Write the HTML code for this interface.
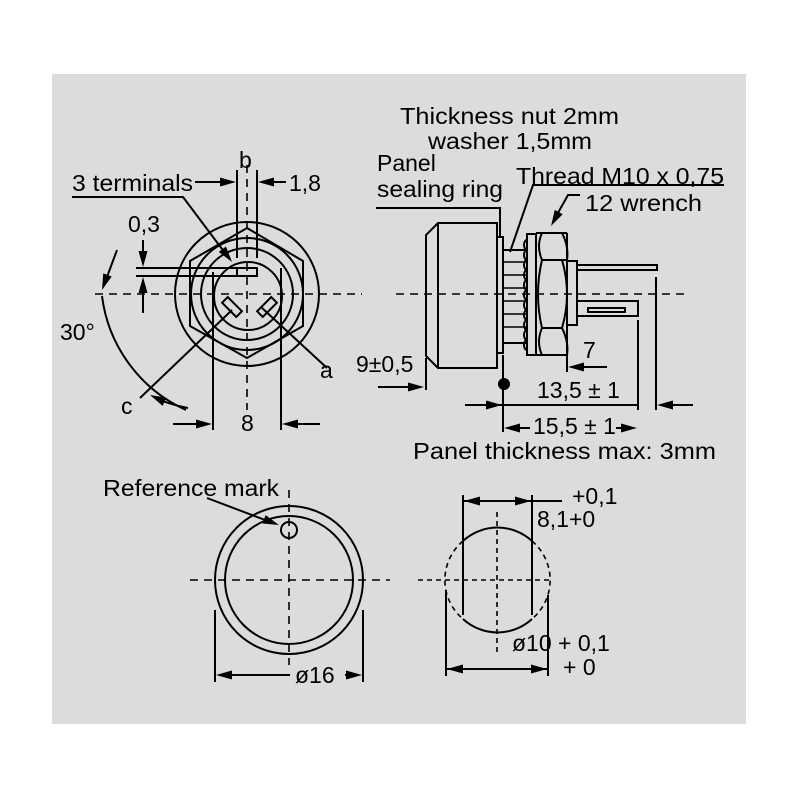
<!DOCTYPE html>
<html><head><meta charset="utf-8"><style>
html,body{margin:0;padding:0;background:#fff;}
svg{display:block;}
text{font-family:"Liberation Sans",Arial,sans-serif;font-size:23px;fill:#000;}
</style></head><body>
<svg width="800" height="800" viewBox="0 0 800 800" xmlns="http://www.w3.org/2000/svg" xmlns:xlink="http://www.w3.org/1999/xlink">
<defs>
<path id="ah" d="M0,0 L-16,-4.5 L-16,4.5 Z" fill="#000" stroke="none"/>
</defs>
<rect x="0" y="0" width="800" height="800" fill="#fff"/>
<rect x="52" y="74" width="694" height="650" fill="#dcdcdc"/>
<g fill="none" stroke="#000" stroke-width="2">
<g stroke-dasharray="8,6" stroke-width="1.6">
<line x1="95" y1="294" x2="362" y2="294"/>
<line x1="247" y1="165" x2="247" y2="410"/>
</g>
<circle cx="247" cy="294" r="72"/>
<polygon points="247,228 303,261 303,326 247,358 190,326 190,261"/>
<circle cx="247" cy="294" r="56"/>
<circle cx="247" cy="294" r="46"/>
<circle cx="248" cy="296" r="34"/>
<rect x="237" y="268" width="20" height="8"/>
<rect x="-10" y="-4" width="20" height="8" transform="translate(232,307) rotate(45)"/>
<rect x="-10" y="-4" width="20" height="8" transform="translate(267,307) rotate(-45)"/>
<line x1="237" y1="170" x2="237" y2="258"/>
<line x1="257" y1="170" x2="257" y2="258"/>
<line x1="213" y1="272" x2="213" y2="430"/>
<line x1="281" y1="268" x2="281" y2="430"/>
<line x1="136" y1="268" x2="237" y2="268"/>
<line x1="136" y1="276" x2="237" y2="276"/>
<line x1="143" y1="240" x2="143" y2="260"/>
<line x1="143" y1="313" x2="143" y2="284"/>
<line x1="195" y1="182" x2="230" y2="182"/>
<line x1="286" y1="182" x2="264" y2="182"/>
<polyline points="72,197 183,197 228,257"/>
<line x1="140" y1="398" x2="232" y2="310"/>
<line x1="327" y1="368" x2="262" y2="308"/>
<path d="M102,296 A145,145 0 0 0 186,410"/>
<line x1="117" y1="250" x2="104" y2="285"/>
<path d="M188,408 Q168,404 156,398"/>
<line x1="173" y1="424" x2="206" y2="424"/>
<line x1="320" y1="424" x2="288" y2="424"/>

<line x1="396" y1="294" x2="690" y2="294" stroke-dasharray="8,6" stroke-width="1.6"/>
<polygon points="438,223 497,223 497,368 438,368 426,356 426,235"/>
<line x1="438" y1="223" x2="438" y2="368"/>
<rect x="497" y="237" width="6" height="116"/>
<rect x="503" y="250" width="24" height="93"/>
<g stroke-width="1.6">
<line x1="503" y1="262" x2="527" y2="262"/><line x1="503" y1="275" x2="527" y2="275"/>
<line x1="503" y1="288" x2="527" y2="288"/><line x1="503" y1="301" x2="527" y2="301"/>
<line x1="503" y1="314" x2="527" y2="314"/><line x1="503" y1="327" x2="527" y2="327"/>
</g>
<rect x="527" y="234" width="9" height="121"/>
<path d="M527,240 a3,5 0 0 0 0,10 a3,5 0 0 0 0,10 a3,5 0 0 0 0,10 a3,5 0 0 0 0,10 a3,5 0 0 0 0,10 a3,5 0 0 0 0,10 a3,5 0 0 0 0,10 a3,5 0 0 0 0,10 a3,5 0 0 0 0,10 a3,5 0 0 0 0,10 a3,5 0 0 0 0,10"/>
<path d="M542,233 L562,233 Q569,246 567,260 L562,260 L542,260 Q536,246 542,233 Z"/>
<path d="M542,328 L562,328 Q569,342 567,355 L542,355 Q536,342 542,328 Z"/>
<path d="M542,260 Q534,294 542,328 L562,328 Q572,294 562,260 Z"/>
<line x1="536" y1="233" x2="567" y2="233"/><line x1="536" y1="355" x2="567" y2="355"/>
<line x1="567" y1="233" x2="567" y2="355"/>
<rect x="567" y="261" width="10" height="64"/>
<rect x="577" y="265" width="80" height="5"/>
<rect x="577" y="301" width="61" height="15"/>
<rect x="588" y="308" width="37" height="4"/>
<line x1="503" y1="355" x2="503" y2="432"/>
<line x1="567" y1="330" x2="567" y2="372"/>
<line x1="638" y1="320" x2="638" y2="410"/>
<line x1="656" y1="277" x2="656" y2="410"/>
<line x1="426" y1="358" x2="426" y2="390"/>
<line x1="378" y1="387" x2="418" y2="387"/>
<line x1="607" y1="367" x2="574" y2="367"/>
<line x1="465" y1="405" x2="638" y2="405"/>
<line x1="693" y1="405" x2="663" y2="405"/>
<line x1="530" y1="428" x2="510" y2="428"/>
<line x1="616" y1="428" x2="631" y2="428"/>
<polyline points="376,208 500,208 500,237"/>
<polyline points="724,185 533,185 510,252"/>
<polyline points="580,195 568,195 554,220"/>

<g stroke-dasharray="8,6" stroke-width="1.6">
<line x1="190" y1="580" x2="390" y2="580"/>
<line x1="289" y1="490" x2="289" y2="665"/>
</g>
<circle cx="289" cy="580" r="74"/>
<circle cx="289" cy="580" r="64"/>
<circle cx="289" cy="530" r="8"/>
<line x1="215" y1="610" x2="215" y2="682"/>
<line x1="363" y1="610" x2="363" y2="682"/>
<line x1="290" y1="675" x2="222" y2="675"/>
<line x1="345" y1="675" x2="356" y2="675"/>
<line x1="207" y1="498" x2="273" y2="523"/>

<g stroke-dasharray="5,4" stroke-width="1.6">
<line x1="418" y1="580" x2="553" y2="580"/>
<line x1="497" y1="512" x2="497" y2="655"/>
<path d="M463,541 A51,51 0 0 0 463,619"/>
<path d="M532,541 A51,51 0 0 1 532,619"/>
</g>
<path d="M463,541 A51,51 0 0 1 532,541"/>
<path d="M463,619 A51,51 0 0 0 532,619"/>
<line x1="463" y1="495" x2="463" y2="615"/>
<line x1="532" y1="495" x2="532" y2="615"/>
<line x1="463" y1="501" x2="562" y2="501"/>
<line x1="446" y1="590" x2="446" y2="676"/>
<line x1="548" y1="595" x2="548" y2="676"/>
<line x1="447" y1="669" x2="547" y2="669"/>
</g>
<g>
<use xlink:href="#ah" transform="translate(143,267) rotate(90)"/>
<use xlink:href="#ah" transform="translate(143,277) rotate(-90)"/>
<use xlink:href="#ah" transform="translate(236,182)"/>
<use xlink:href="#ah" transform="translate(258,182) rotate(180)"/>
<use xlink:href="#ah" transform="translate(232,262) rotate(53)"/>
<use xlink:href="#ah" transform="translate(102,290) rotate(110)"/>
<use xlink:href="#ah" transform="translate(150,395) rotate(205)"/>
<use xlink:href="#ah" transform="translate(212,424)"/>
<use xlink:href="#ah" transform="translate(282,424) rotate(180)"/>
<use xlink:href="#ah" transform="translate(424,387)"/>
<use xlink:href="#ah" transform="translate(568,367) rotate(180)"/>
<use xlink:href="#ah" transform="translate(502,405)"/>
<use xlink:href="#ah" transform="translate(657,405) rotate(180)"/>
<use xlink:href="#ah" transform="translate(504,428) rotate(180)"/>
<use xlink:href="#ah" transform="translate(637,428)"/>
<use xlink:href="#ah" transform="translate(551,226) rotate(119)"/>
<use xlink:href="#ah" transform="translate(216,675) rotate(180)"/>
<use xlink:href="#ah" transform="translate(362,675)"/>
<use xlink:href="#ah" transform="translate(279,525) rotate(21)"/>
<use xlink:href="#ah" transform="translate(464,501) rotate(180)"/>
<use xlink:href="#ah" transform="translate(531,501)"/>
<use xlink:href="#ah" transform="translate(447,669) rotate(180)"/>
<use xlink:href="#ah" transform="translate(547,669)"/>
</g>
<circle cx="504" cy="384" r="6" fill="#000"/>

<g>
<text x="239" y="168">b</text>
<text x="72" y="191" textLength="121" lengthAdjust="spacingAndGlyphs">3 terminals</text>
<text x="289" y="191">1,8</text>
<text x="128" y="232">0,3</text>
<text x="60" y="340">30°</text>
<text x="320" y="378">a</text>
<text x="121" y="414">c</text>
<text x="241" y="431">8</text>
<text x="400" y="124" textLength="219" lengthAdjust="spacingAndGlyphs">Thickness nut 2mm</text>
<text x="428" y="149" textLength="164" lengthAdjust="spacingAndGlyphs">washer 1,5mm</text>
<text x="377" y="171">Panel</text>
<text x="377" y="197" textLength="126" lengthAdjust="spacingAndGlyphs">sealing ring</text>
<text x="516" y="184" textLength="208" lengthAdjust="spacingAndGlyphs">Thread M10 x 0,75</text>
<text x="585" y="211" textLength="117" lengthAdjust="spacingAndGlyphs">12 wrench</text>
<text x="356" y="372">9±0,5</text>
<text x="583" y="358">7</text>
<text x="537" y="398">13,5 ± 1</text>
<text x="533" y="434">15,5 ± 1</text>
<text x="413" y="459" textLength="303" lengthAdjust="spacingAndGlyphs">Panel thickness max: 3mm</text>
<text x="103" y="496" textLength="176" lengthAdjust="spacingAndGlyphs">Reference mark</text>
<text x="295" y="683">ø16</text>
<text x="572" y="504">+0,1</text>
<text x="537" y="527">8,1+0</text>
<text x="512" y="651">ø10 + 0,1</text>
<text x="563" y="675">+ 0</text>
</g>
</svg>
</body></html>
